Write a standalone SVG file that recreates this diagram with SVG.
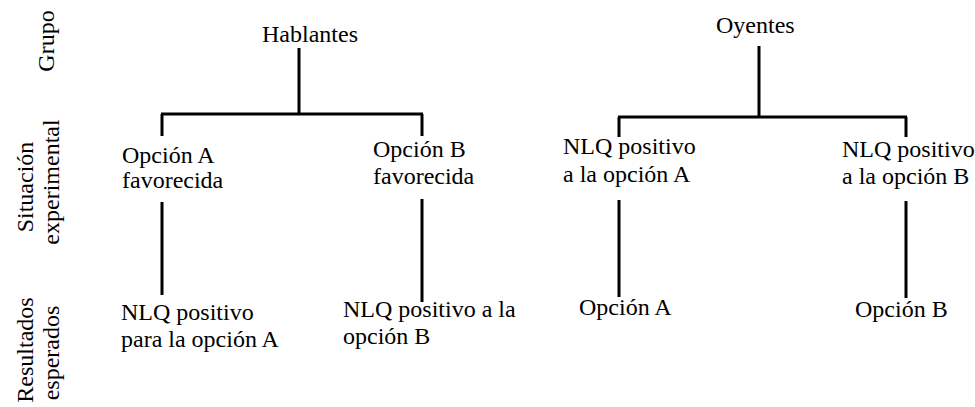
<svg xmlns="http://www.w3.org/2000/svg" width="975" height="407" viewBox="0 0 975 407" font-family="'Liberation Serif', 'Times New Roman', 'DejaVu Serif', serif">
  <style>
    text { font-family: 'Liberation Serif', 'Times New Roman', 'DejaVu Serif', serif; font-size: 24px; fill: #000; }
    .axis { text-anchor: middle; }
    .ln { stroke: #000; stroke-width: 3; fill: none; }
  </style>
  <rect width="975" height="407" fill="#fff"/>

  <!-- row labels (rotated) -->
  <g id="row-grupo">
    <text class="axis" transform="translate(54,41) rotate(-90)">Grupo</text>
  </g>
  <g id="row-situacion">
    <text class="axis" transform="translate(33,187) rotate(-90)">Situación</text>
    <text class="axis" transform="translate(59,182) rotate(-90)">experimental</text>
  </g>
  <g id="row-resultados">
    <text class="axis" transform="translate(33,350) rotate(-90)">Resultados</text>
    <text class="axis" transform="translate(59,353) rotate(-90)">esperados</text>
  </g>

  <!-- connectors -->
  <g id="connectors">
    <path class="ln" d="M299 48 V114 M161 114 H423 M162 114 V136 M422 114 V136"/>
    <path class="ln" d="M162 202 V295 M422 199 V302"/>
    <path class="ln" d="M759 46 V117 M618 117 H907 M619 117 V137 M906 117 V137"/>
    <path class="ln" d="M619 200 V297 M906 201 V298"/>
  </g>

  <!-- group nodes -->
  <g id="hablantes"><text x="262" y="42">Hablantes</text></g>
  <g id="oyentes"><text x="716" y="33">Oyentes</text></g>

  <!-- experimental situation nodes -->
  <g id="hab-opcion-a">
    <text x="122" y="163">Opción A</text>
    <text x="122" y="188">favorecida</text>
  </g>
  <g id="hab-opcion-b">
    <text x="373" y="157">Opción B</text>
    <text x="373" y="184">favorecida</text>
  </g>
  <g id="oy-nlq-a">
    <text x="563" y="154">NLQ positivo</text>
    <text x="563" y="182">a la opción A</text>
  </g>
  <g id="oy-nlq-b">
    <text x="842" y="157">NLQ positivo</text>
    <text x="842" y="184">a la opción B</text>
  </g>

  <!-- expected result nodes -->
  <g id="res-hab-a">
    <text x="121" y="320">NLQ positivo</text>
    <text x="121" y="347">para la opción A</text>
  </g>
  <g id="res-hab-b">
    <text x="343" y="317">NLQ positivo a la</text>
    <text x="343" y="344">opción B</text>
  </g>
  <g id="res-oy-a"><text x="579" y="315">Opción A</text></g>
  <g id="res-oy-b"><text x="855" y="317">Opción B</text></g>
</svg>
